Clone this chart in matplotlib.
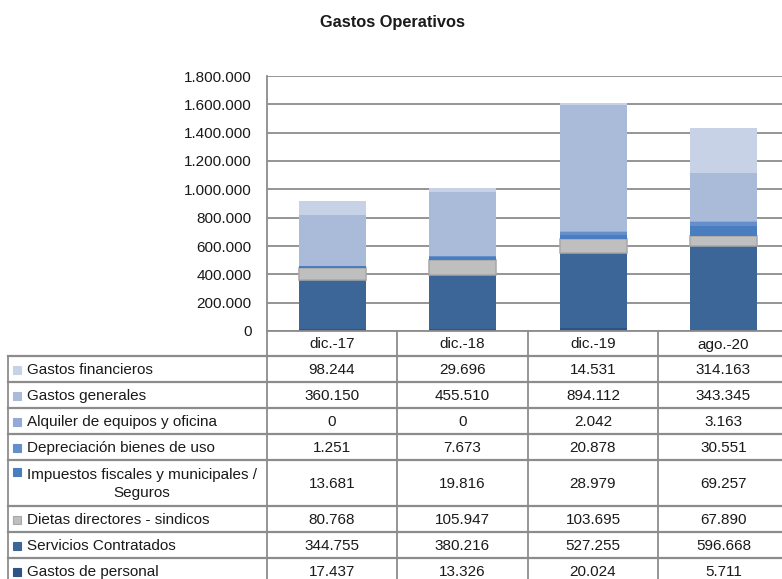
import numpy as np
import matplotlib.pyplot as plt
from matplotlib.patches import Rectangle

plt.rcParams['font.family'] = ['Liberation Sans', 'DejaVu Sans']

periods = ["dic.-17", "dic.-18", "dic.-19", "ago.-20"]

# series listed bottom of the stack first
series = [
    "Gastos de personal",
    "Servicios Contratados",
    "Dietas directores - sindicos",
    "Impuestos fiscales y municipales /\nSeguros",
    "Depreciación bienes de uso",
    "Alquiler de equipos y oficina",
    "Gastos generales",
    "Gastos financieros",
]
gastos_personal = [17437, 13326, 20024, 5711]
servicios = [344755, 380216, 527255, 596668]
dietas = [80768, 105947, 103695, 67890]
impuestos = [13681, 19816, 28979, 69257]
depreciacion = [1251, 7673, 20878, 30551]
alquiler = [0, 0, 2042, 3163]
generales = [360150, 455510, 894112, 343345]
financieros = [98244, 29696, 14531, 314163]
values = [gastos_personal, servicios, dietas, impuestos,
          depreciacion, alquiler, generales, financieros]

colors = ["#2E5387", "#3C6697", "#BFBFBF", "#4A7DBF",
          "#6390CC", "#93AAD6", "#AABBDA", "#C8D2E7"]
edges = [None, None, "#A8A8A8", None, None, None, None, None]

W, H = 782, 579
fig = plt.figure(figsize=(W / 100, H / 100), dpi=100)
fs = 11

# chart area in pixel terms
left, right, top, bottom = 267, 789, 76, 331
ax = fig.add_axes([left / W, 1 - bottom / H, (right - left) / W, (bottom - top) / H])

x = np.arange(len(periods))
base = np.zeros(len(periods))
for name, vals, c, e in zip(series, values, colors, edges):
    vals = np.array(vals, dtype=float)
    if e:
        ax.bar(x, vals, 0.51, bottom=base, color=c, edgecolor=e, linewidth=1.1, zorder=3)
    else:
        ax.bar(x, vals, 0.51, bottom=base, color=c, linewidth=0, zorder=3)
    base += vals

ax.set_xlim(-0.5, len(periods) - 0.5)
ax.set_ylim(0, 1800000)
ticks = np.arange(0, 1800001, 200000)
ax.set_yticks(ticks)
ax.set_yticklabels([f"{t:,}".replace(",", ".") for t in ticks])
ax.set_xticks([])
ax.yaxis.grid(True, color="#8C8C8C", linewidth=1.3, zorder=0)
ax.tick_params(axis="y", length=0, pad=11, labelsize=fs, labelcolor="#1A1A1A")
for s in ["top", "right", "bottom"]:
    ax.spines[s].set_visible(False)
ax.spines["left"].set_color("#8C8C8C")
ax.spines["left"].set_linewidth(1.3)

fig.text(392 / W, 1 - 22 / H, "Gastos Operativos", ha="center", va="center",
         fontsize=11.8, fontweight="bold", color="#1A1A1A")

# data table drawn on an overlay in pixel coordinates
tab = fig.add_axes([0, 0, 1, 1], zorder=5)
tab.set_xlim(0, W)
tab.set_ylim(H, 0)
tab.axis("off")
tab.patch.set_alpha(0)

col_edges = [267, 397, 528, 658, 789]
row_edges = [331, 356, 382, 408, 434, 460, 506, 532, 558, 584]
lc = "#8C8C8C"

for xe in col_edges:
    tab.plot([xe, xe], [row_edges[0], H + 10], color=lc, lw=1.3)
tab.plot([8, 8], [row_edges[1], H + 10], color=lc, lw=1.3)
tab.plot([267, W + 10], [row_edges[0], row_edges[0]], color=lc, lw=1.3)
for ye in row_edges[1:]:
    tab.plot([8, W + 10], [ye, ye], color=lc, lw=1.6)

for i, p in enumerate(periods):
    cx = (col_edges[i] + col_edges[i + 1]) / 2
    tab.text(cx, (row_edges[0] + row_edges[1]) / 2 + 1, p, ha="center", va="center",
             fontsize=fs, color="#1A1A1A")

rows = list(zip(series, values, colors, edges))[::-1]
for r, (name, vals, c, e) in enumerate(rows):
    y0, y1 = row_edges[r + 1], row_edges[r + 2]
    ym = (y0 + y1) / 2 + 1
    first_y = y0 + 12 if "\n" in name else ym
    tab.add_patch(Rectangle((13, first_y - 4), 8, 8, facecolor=c,
                            edgecolor=e if e else c, lw=0.8))
    tab.text(27, ym, name, ha="left", va="center", multialignment="center",
             fontsize=fs, color="#1A1A1A", linespacing=1.45)
    for i, v in enumerate(vals):
        cx = (col_edges[i] + col_edges[i + 1]) / 2
        tab.text(cx, ym, f"{v:,}".replace(",", "."), ha="center", va="center",
                 fontsize=fs, color="#1A1A1A")

fig.savefig("out.png", dpi=100)
